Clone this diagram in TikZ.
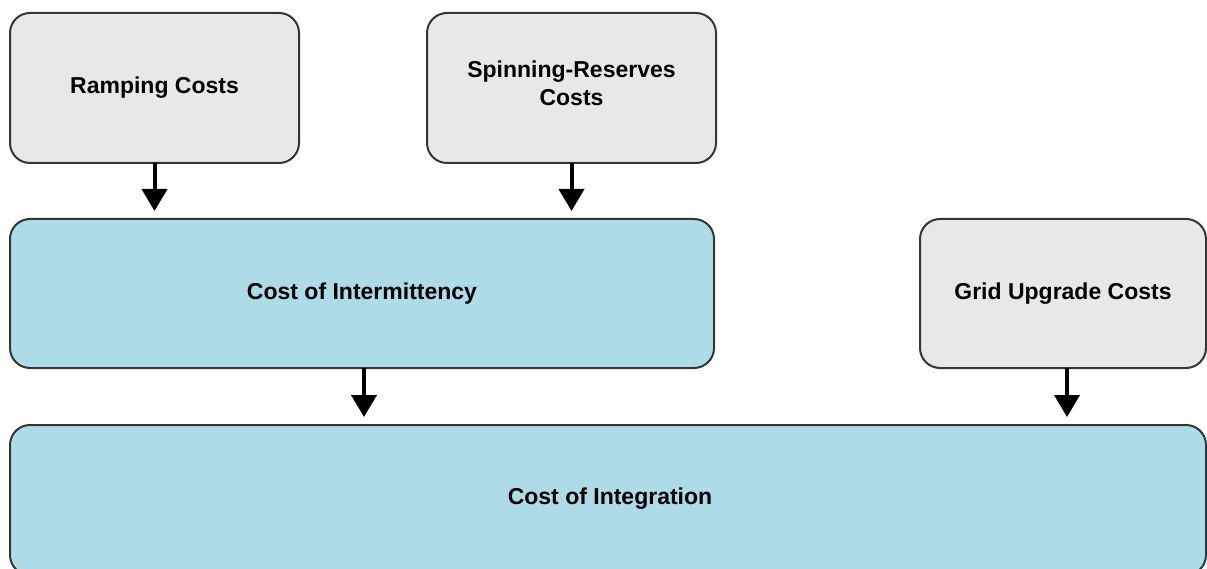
\documentclass[tikz,border=0pt]{standalone}
\usepackage{fontspec}
\setmainfont{Liberation Sans}
\usetikzlibrary{arrows.meta}
\definecolor{boxgray}{HTML}{E8E8E8}
\definecolor{boxblue}{HTML}{ADDCE8}
\definecolor{edge}{HTML}{353535}
\begin{document}
\begin{tikzpicture}[x=1pt,y=-1pt,
  label font/.style={font=\fontsize{23}{28}\selectfont\bfseries},
  box/.style={draw=edge, line width=2pt, rounded corners=20pt,
    inner sep=0pt, outer sep=0pt, align=center, label font},
  src/.style={box, fill=boxgray},
  sum/.style={box, fill=boxblue},
  flow/.style={line width=4pt, -{Triangle[width=25pt,length=22pt]}, shorten >=8pt}
]
\useasboundingbox (0,0) rectangle (1207,569);
% source cost boxes
\node[src, minimum width=289pt, minimum height=150pt] (ramp) at (154.5,88) {Ramping Costs};
\node[src, minimum width=289pt, minimum height=150pt] (spin) at (571.5,88) {};
\node[label font, align=center, inner sep=0pt] (spint) at (571.5,83.5) {Spinning-Reserves\\Costs};
\node[src, minimum width=286pt, minimum height=149pt] (grid) at (1063,293.5) {Grid Upgrade Costs};
% aggregated cost boxes
\node[sum, minimum width=704pt, minimum height=149pt] (inter) at (362,293.5) {Cost of Intermittency};
\node[sum, minimum width=1196pt, minimum height=150pt] (integ) at (608,500) {};
\node[label font] (integt) at (610,499) {Cost of Integration};
% flows
\draw[flow] (ramp.south) -- (ramp.south |- inter.north);
\draw[flow] (spin.south) -- (spin.south |- inter.north);
\draw[flow] ([xshift=2pt]inter.south) -- ([xshift=2pt]inter.south |- integ.north);
\draw[flow] ([xshift=4pt]grid.south) -- ([xshift=4pt]grid.south |- integ.north);
\end{tikzpicture}
\end{document}
